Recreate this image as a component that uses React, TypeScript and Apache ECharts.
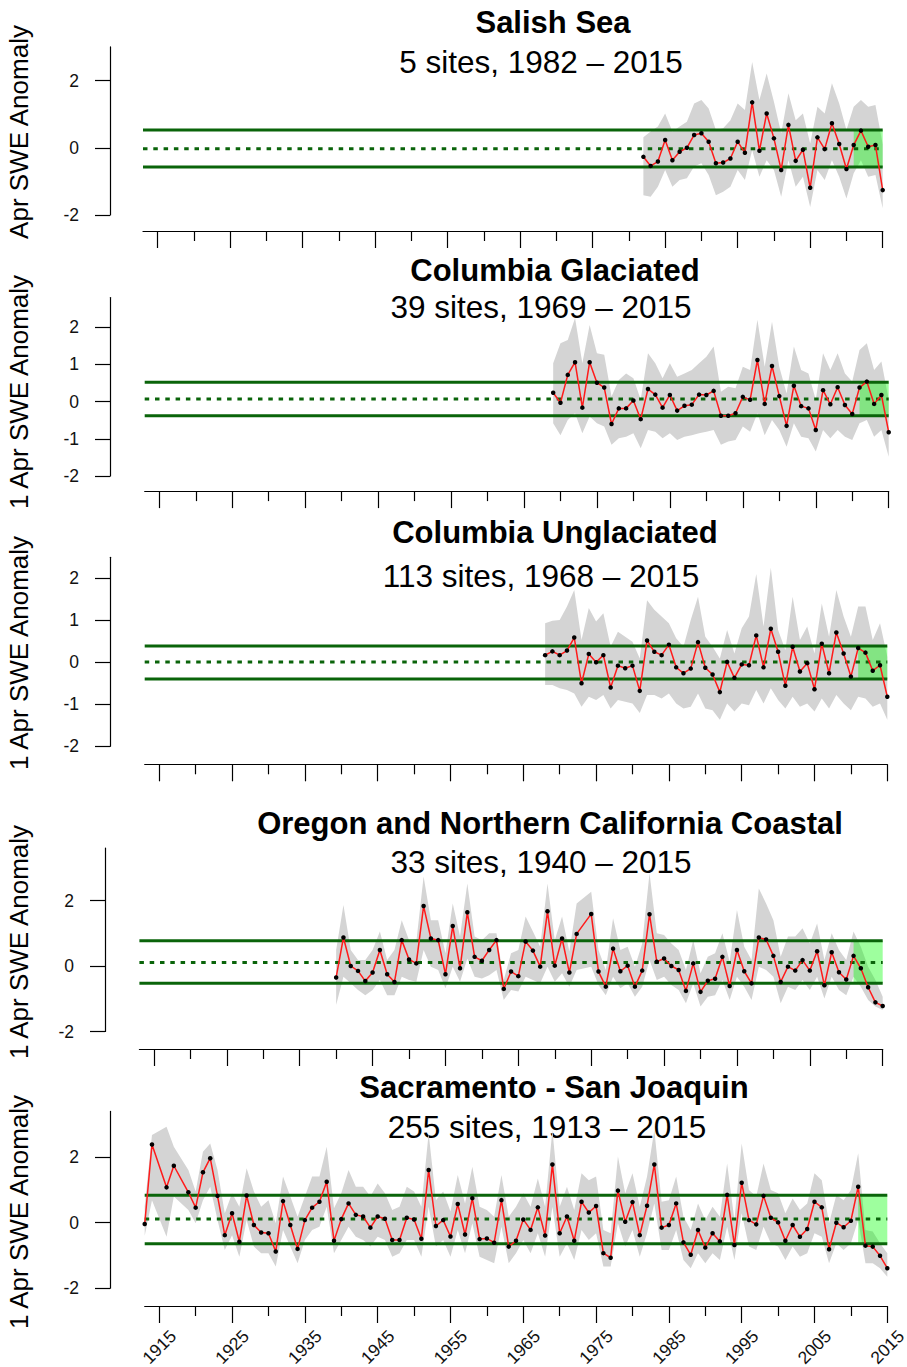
import React, { useEffect, useRef } from "react";
import * as echarts from "echarts";

const FONT = "'Liberation Sans', Arial, Helvetica, sans-serif";

function span(from: number, to: number, missing: number[] = []): number[] {
  const out: number[] = [];
  for (let y = from; y <= to; y++) if (!missing.includes(y)) out.push(y);
  return out;
}

// ---------- shared axis values ----------
const X_RANGE = [1913, 2015];
const majorYears = [1915, 1925, 1935, 1945, 1955, 1965, 1975, 1985, 1995, 2005, 2015];
const minorYears = [1920, 1930, 1940, 1950, 1960, 1970, 1980, 1990, 2000, 2010];
const recentPeriod = [2011, 2015];

// ---------- Salish Sea ----------
const salishYears = span(1982, 2015);
const salishMean = [-0.27, -0.54, -0.41, 0.23, -0.37, -0.12, 0.0, 0.38, 0.43, 0.18, -0.46, -0.44, -0.32, 0.18, -0.15, 1.35, -0.09, 1.02, 0.28, -0.66, 0.68, -0.39, -0.06, -1.19, 0.31, -0.04, 0.73, 0.11, -0.63, 0.08, 0.51, 0.03, 0.08, -1.26];
const salishHi = [0.31, 0.48, 0.63, 1.02, 0.48, 0.63, 0.77, 1.32, 1.42, 1.17, 0.53, 0.58, 0.82, 1.32, 1.12, 2.55, 1.42, 2.21, 1.37, 0.43, 1.62, 0.82, 1.02, 0.13, 1.22, 1.02, 1.92, 1.32, 0.53, 1.22, 1.42, 1.22, 1.27, 0.1];
const salishLo = [-1.41, -1.46, -1.16, -0.66, -1.16, -0.96, -0.91, -0.56, -0.46, -0.81, -1.41, -1.31, -1.16, -0.66, -0.96, -0.07, -0.86, -0.37, -0.66, -1.46, -0.37, -1.16, -0.86, -1.76, -0.66, -0.96, -0.37, -0.86, -1.51, -0.76, -0.37, -0.86, -0.81, -1.8];
const salishLines = [0.53, -0.03, -0.57];

// ---------- Columbia Glaciated ----------
const glacYears = span(1969, 2015);
const glacMean = [0.24, -0.03, 0.72, 1.06, -0.16, 1.06, 0.51, 0.38, -0.6, -0.18, -0.18, 0.03, -0.47, 0.34, 0.19, -0.16, 0.18, -0.24, -0.11, -0.08, 0.19, 0.18, 0.29, -0.38, -0.38, -0.31, 0.13, 0.05, 1.12, -0.06, 0.96, 0.15, -0.65, 0.43, -0.12, -0.18, -0.76, 0.31, -0.07, 0.39, -0.09, -0.33, 0.38, 0.54, -0.06, 0.18, -0.82];
const glacHi = [1.03, 1.57, 1.66, 2.25, 1.03, 2.06, 1.3, 1.26, 0.14, 0.58, 0.76, 0.63, 0.05, 1.3, 1.03, 0.63, 1.03, 0.67, 0.76, 0.85, 1.03, 1.21, 1.48, 0.27, 0.4, 0.36, 0.94, 0.85, 2.2, 0.94, 2.15, 0.94, 0.22, 1.48, 0.85, 0.76, 0.05, 1.3, 0.85, 1.3, 0.76, 0.54, 1.39, 1.57, 0.85, 1.08, 0.05];
const glacLo = [-0.58, -0.9, -0.49, -0.31, -0.85, -0.4, -0.58, -0.67, -1.16, -0.98, -0.94, -0.85, -1.25, -0.76, -0.81, -0.98, -0.85, -1.03, -0.94, -0.9, -0.85, -0.81, -0.76, -1.16, -1.07, -1.03, -0.67, -0.81, -0.31, -0.9, -0.49, -0.76, -1.21, -0.58, -0.94, -0.98, -1.34, -0.76, -0.98, -0.76, -0.94, -1.03, -0.58, -0.49, -0.94, -0.76, -1.48];
const glacLines = [0.52, 0.07, -0.38];

// ---------- Columbia Unglaciated ----------
const unglYears = span(1968, 2015);
const unglMean = [0.17, 0.26, 0.17, 0.28, 0.59, -0.5, 0.2, 0.0, 0.17, -0.6, -0.08, -0.14, -0.08, -0.68, 0.52, 0.25, 0.17, 0.42, -0.12, -0.26, -0.15, 0.48, -0.13, -0.29, -0.71, 0.01, -0.37, -0.05, -0.07, 0.64, -0.12, 0.8, 0.25, -0.56, 0.37, -0.22, -0.02, -0.64, 0.44, -0.26, 0.71, 0.21, -0.34, 0.34, 0.23, -0.2, -0.07, -0.82];
const unglHi = [0.93, 0.99, 1.01, 1.33, 1.72, 0.53, 1.29, 0.97, 1.17, 0.37, 0.73, 0.61, 0.49, 0.09, 1.48, 1.25, 1.09, 0.93, 0.57, 0.37, 1.01, 1.56, 0.61, 0.37, 0.09, 0.77, 0.21, 0.81, 1.09, 2.1, 0.85, 2.25, 0.77, 0.29, 1.56, 0.53, 0.85, 0.21, 1.4, 0.61, 1.72, 1.09, 0.61, 1.33, 1.33, 0.53, 0.93, 0.13];
const unglLo = [-0.54, -0.54, -0.62, -0.66, -0.74, -1.06, -0.82, -0.9, -0.78, -1.1, -0.9, -0.94, -0.98, -1.21, -0.78, -0.78, -0.86, -0.74, -0.98, -1.1, -1.06, -0.74, -1.1, -1.14, -1.37, -0.98, -1.17, -0.98, -1.02, -0.66, -0.98, -0.62, -0.9, -1.1, -0.82, -1.06, -0.98, -1.17, -0.86, -1.1, -0.78, -0.98, -1.14, -0.82, -0.86, -1.06, -0.98, -1.37];
const unglLines = [0.39, 0.01, -0.4];

// ---------- Oregon and Northern California Coastal ----------
const orYears = span(1940, 2015, [1974]);
const orMean = [-0.35, 0.87, 0.0, -0.15, -0.46, -0.2, 0.49, -0.25, -0.49, 0.79,
  0.2, 0.08, 1.83, 0.84, 0.79, -0.25, 1.22, -0.07, 1.64, 0.28,
  0.16, 0.49, 0.79, -0.7, -0.17, -0.31, 0.75, 0.47, -0.02, 1.67,
  0.01, 0.84, -0.2, 0.98,
  1.59, -0.17, -0.63, 0.53, -0.16,
  0.01, -0.63, -0.14, 1.58, 0.13, 0.23, 0.0, -0.12, -0.76, 0.08,
  -0.79, -0.45, -0.39, 0.28, -0.61, 0.49, -0.16, -0.53, 0.87, 0.81,
  0.31, -0.49, -0.02, -0.14, 0.18, -0.14, 0.45, -0.59, 0.42, -0.19,
  -0.41, 0.31, -0.07, -0.65, -1.11, -1.22];
const orHi = [0.49, 1.86, 0.49, 0.18, 0.18, 0.49, 1.05, 0.18, 0.49, 1.4,
  0.79, 0.74, 2.73, 1.4, 1.4, 0.39, 1.91, 0.9, 2.52, 0.9,
  0.79, 1.0, 1.0, -0.43, 0.39, 0.49, 1.51, 1.05, 0.59, 2.52,
  0.79, 1.51, 0.44, 1.91,
  2.27, 0.49, -0.12, 1.46, 0.49,
  0.59, -0.02, 0.69, 2.83, 1.0, 0.95, 0.69, 0.49, -0.12, 0.79,
  -0.22, 0.28, 0.39, 1.0, 0.13, 1.71, 0.59, 0.18, 2.37, 1.91,
  1.4, 0.28, 0.9, 0.9, 1.15, 0.69, 1.3, 0.18, 1.0, 0.49,
  0.18, 1.05, 0.59, -0.02, -0.43, -0.94];
const orLo = [-1.19, -0.33, -0.53, -0.73, -0.89, -0.73, -0.43, -0.89, -0.89, -0.33,
  -0.43, -0.48, 0.49, -0.02, -0.12, -0.68, -0.02, -0.48, 0.23, -0.33,
  -0.38, -0.28, -0.12, -1.04, -0.73, -0.78, -0.33, -0.43, -0.53, -0.02,
  -0.48, -0.22, -0.63, -0.12,
  -0.02, -0.58, -0.89, -0.33, -0.68,
  -0.53, -0.94, -0.63, 0.18, -0.43, -0.33, -0.58, -0.73, -1.14, -0.53,
  -1.24, -0.94, -0.89, -0.43, -1.04, -0.33, -0.63, -1.04, -0.02, -0.12,
  -0.33, -1.14, -0.63, -0.73, -0.43, -0.73, -0.33, -0.99, -0.33, -0.73,
  -0.89, -0.33, -0.63, -1.04, -1.24, -1.34];
const orLines = [0.77, 0.11, -0.53];

// ---------- Sacramento - San Joaquin ----------
const sacYears = span(1913, 2015, [1915, 1918]);
const sacMean = [-0.04, 2.39, 1.08, 1.74, 0.93,
  0.46, 1.54, 1.97, 0.82, -0.38, 0.29, -0.58, 0.83, -0.07, -0.3,
  -0.32, -0.88, 0.66, -0.07, -0.8, 0.08, 0.46, 0.64, 1.25, -0.55,
  0.11, 0.59, 0.24, 0.19, -0.15, 0.19, 0.12, -0.53, -0.53, 0.15,
  0.1, -0.49, 1.61, -0.1, 0.08, -0.42, 0.57, -0.36, 0.75, -0.5,
  -0.48, -0.61, 0.69, -0.73, -0.55, 0.1, -0.22, 0.47, -0.39, 1.78,
  -0.32, 0.19, -0.55, 0.64, 0.31, 0.51, -0.93, -1.07, 0.98, 0.03,
  0.63, -0.38, 0.52, 1.78, -0.15, -0.07, 0.59, -0.6, -0.98, -0.22,
  -0.76, -0.32, -0.57, 0.85, -0.68, 1.22, 0.08, -0.05, 0.82, 0.15,
  0.01, -0.55, -0.07, -0.43, -0.19, 0.64, 0.47, -0.81, 0.0, -0.14,
  0.06, 1.1, -0.7, -0.73, -1.01, -1.39];
const sacHi = [0.5, 2.68, 2.93, 2.32, 1.61,
  0.95, 2.17, 2.42, 1.61, 0.29, 0.9, 0.49, 1.66, 0.95, 0.49,
  0.69, -0.02, 1.41, 0.8, 0.18, 0.8, 1.41, 1.41, 2.32, 0.44,
  0.9, 1.61, 1.1, 1.1, 0.8, 1.2, 0.9, 0.39, 0.49, 1.1,
  0.95, 0.49, 2.73, 0.69, 0.95, 0.34, 1.46, 0.59, 1.71, 0.49,
  0.39, 0.18, 1.46, 0.18, 0.49, 0.9, 0.49, 1.35, 0.49, 2.83,
  0.49, 1.1, 0.39, 1.51, 1.3, 1.41, -0.22, -0.32, 2.02, 0.9,
  1.51, 0.49, 1.41, 2.83, 0.64, 0.69, 1.41, 0.18, -0.22, 0.59,
  0.08, 0.49, 0.18, 1.81, 0.08, 2.42, 1.0, 0.8, 1.81, 1.0,
  0.9, 0.29, 0.74, 0.39, 0.59, 1.51, 1.3, -0.02, 0.85, 0.69,
  1.0, 2.12, -0.22, -0.27, -0.63, -0.93];
const sacLo = [-0.4, 0.69, -0.43, 0.8, 0.39,
  -0.02, 0.69, 1.1, 0.08, -0.83, -0.38, -1.04, 0.08, -0.73, -0.93,
  -0.93, -1.34, -0.22, -0.73, -1.24, -0.53, -0.22, -0.12, 0.49, -0.93,
  -0.53, -0.12, -0.43, -0.53, -0.73, -0.43, -0.53, -1.04, -0.93, -0.53,
  -0.53, -1.04, 0.49, -0.73, -0.53, -1.04, -0.22, -0.93, -0.02, -1.04,
  -1.14, -1.24, -0.12, -1.24, -0.93, -0.53, -0.93, -0.32, -1.04, 0.49,
  -1.04, -0.63, -1.14, -0.22, -0.53, -0.32, -1.34, -1.34, -0.02, -0.73,
  -0.22, -1.04, -0.32, 0.59, -0.83, -0.83, -0.22, -1.14, -1.39, -0.93,
  -1.24, -0.93, -1.14, -0.12, -1.14, 0.29, -0.73, -0.83, -0.12, -0.63,
  -0.73, -1.14, -0.73, -1.04, -0.93, -0.32, -0.43, -1.24, -0.63, -0.83,
  -0.63, 0.08, -1.24, -1.24, -1.39, -1.65];
const sacLines = [0.84, 0.11, -0.64];

const panels = [
  { title: "Salish Sea", subtitle: "5 sites, 1982 \u2013 2015", yName: "Apr SWE Anomaly", years: salishYears, mean: salishMean, hi: salishHi, lo: salishLo, lines: salishLines, yTicks: [-2, 0, 2], yMax: 3.0 },
  { title: "Columbia Glaciated", subtitle: "39 sites, 1969 \u2013 2015", yName: "1 Apr SWE Anomaly", years: glacYears, mean: glacMean, hi: glacHi, lo: glacLo, lines: glacLines, yTicks: [-2, -1, 0, 1, 2], yMax: 2.8 },
  { title: "Columbia Unglaciated", subtitle: "113 sites, 1968 \u2013 2015", yName: "1 Apr SWE Anomaly", years: unglYears, mean: unglMean, hi: unglHi, lo: unglLo, lines: unglLines, yTicks: [-2, -1, 0, 1, 2], yMax: 2.5 },
  { title: "Oregon and Northern California Coastal", subtitle: "33 sites, 1940 \u2013 2015", yName: "1 Apr SWE Anomaly", years: orYears, mean: orMean, hi: orHi, lo: orLo, lines: orLines, yTicks: [-2, 0, 2], yMax: 3.6 },
  { title: "Sacramento - San Joaquin", subtitle: "255 sites, 1913 \u2013 2015", yName: "1 Apr SWE Anomaly", years: sacYears, mean: sacMean, hi: sacHi, lo: sacLo, lines: sacLines, yTicks: [-2, 0, 2], yMax: 3.4 },
];

// pixel layout of each panel
const layouts = [
  { left: 143, width: 739.7, top: 46.9, height: 168.1, xOff: 16, yOff: 33, titleX: 553, titleY: 22, subX: 541, subY: 62, nameY: 132 },
  { left: 144.7, width: 744, top: 297.5, height: 178.6, xOff: 15, yOff: 34.7, titleX: 555, titleY: 270, subX: 541, subY: 307, nameY: 392 },
  { left: 144.7, width: 742.6, top: 557.3, height: 189, xOff: 18, yOff: 34.7, titleX: 555, titleY: 532, subX: 541, subY: 576, nameY: 653 },
  { left: 139.4, width: 743.3, top: 848.1, height: 183.4, xOff: 17.5, yOff: 34.4, titleX: 550, titleY: 823, subX: 541, subY: 862, nameY: 942 },
  { left: 144.7, width: 742.6, top: 1111.4, height: 176.8, xOff: 17.8, yOff: 34.7, titleX: 554, titleY: 1087, subX: 547, subY: 1127, nameY: 1212 },
];

const AXIS_COLOR = "#000";
const GREEN = "#0a640a";

function buildOption() {
  const grid: any[] = [];
  const xAxis: any[] = [];
  const yAxis: any[] = [];
  const series: any[] = [];
  const graphic: any[] = [];

  panels.forEach((p, k) => {
    const L = layouts[k];
    grid.push({ left: L.left, top: L.top, width: L.width, height: L.height, containLabel: false, outerBoundsMode: "none" });
    xAxis.push({
      type: "value", gridIndex: k, min: X_RANGE[0], max: X_RANGE[1], position: "bottom", offset: L.xOff,
      axisLine: { show: true, onZero: false, lineStyle: { color: AXIS_COLOR, width: 1.2 } },
      axisTick: { show: true, customValues: majorYears, length: 17, lineStyle: { color: AXIS_COLOR, width: 1.2 } },
      axisLabel: { show: k === panels.length - 1, customValues: majorYears, rotate: 45, align: "center", verticalAlign: "middle", margin: 41, fontSize: 17.5, color: "#111", fontFamily: FONT, formatter: (v: number) => String(v) },
      splitLine: { show: false },
    });
    xAxis.push({
      type: "value", gridIndex: k, min: X_RANGE[0], max: X_RANGE[1], position: "bottom", offset: L.xOff,
      axisLine: { show: false, onZero: false },
      axisTick: { show: true, customValues: minorYears, length: 10, lineStyle: { color: AXIS_COLOR, width: 1.2 } },
      axisLabel: { show: false },
      splitLine: { show: false },
    });
    yAxis.push({
      type: "value", gridIndex: k, min: -2, max: p.yMax, position: "left", offset: L.yOff,
      axisLine: { show: true, onZero: false, lineStyle: { color: AXIS_COLOR, width: 1.2 } },
      axisTick: { show: true, customValues: p.yTicks, length: 15, lineStyle: { color: AXIS_COLOR, width: 1.2 } },
      axisLabel: { show: true, customValues: p.yTicks, margin: 31, fontSize: 17.5, color: "#111", fontFamily: FONT, formatter: (v: number) => String(v) },
      splitLine: { show: false },
    });

    const xi = 2 * k;
    // gray envelope
    series.push({
      type: "custom", xAxisIndex: xi, yAxisIndex: k, z: 1, silent: true,
      data: [[p.years[0], p.mean[0]]],
      renderItem: (_params: any, api: any) => {
        const pts: number[][] = [];
        p.years.forEach((y, i) => pts.push(api.coord([y, p.hi[i]])));
        for (let i = p.years.length - 1; i >= 0; i--) pts.push(api.coord([p.years[i], p.lo[i]]));
        return { type: "polygon", shape: { points: pts }, style: { fill: "#d4d4d4", stroke: "none" } };
      },
    });
    // recent-period green box
    series.push({
      type: "custom", xAxisIndex: xi, yAxisIndex: k, z: 2, silent: true,
      data: [[recentPeriod[0], p.lines[0]]],
      renderItem: (_params: any, api: any) => {
        const a = api.coord([recentPeriod[0], p.lines[0]]);
        const b = api.coord([recentPeriod[1], p.lines[2]]);
        return { type: "rect", shape: { x: a[0], y: a[1], width: b[0] - a[0], height: b[1] - a[1] }, style: { fill: "rgba(0,255,0,0.38)" } };
      },
    });
    // green reference lines
    p.lines.forEach((v, j) => {
      series.push({
        type: "line", xAxisIndex: xi, yAxisIndex: k, z: 3, silent: true, symbol: "none", clip: false,
        data: [[X_RANGE[0], v], [X_RANGE[1], v]],
        lineStyle: j === 1 ? { color: GREEN, width: 3, type: [4.5, 5.8], cap: "butt" } : { color: GREEN, width: 3 },
      });
    });
    // mean anomaly
    series.push({
      type: "line", xAxisIndex: xi, yAxisIndex: k, z: 5, silent: true, clip: false,
      data: p.years.map((y, i) => [y, p.mean[i]]),
      symbol: "circle", symbolSize: 4.5, showSymbol: true,
      itemStyle: { color: "#000" },
      lineStyle: { color: "#ff1a1a", width: 1.5 },
    });

    graphic.push({ type: "text", x: L.titleX, y: L.titleY, silent: true, style: { text: p.title, fontSize: 31, fontWeight: "bold", fontFamily: FONT, fill: "#000", textAlign: "center", textVerticalAlign: "middle" } });
    graphic.push({ type: "text", x: L.subX, y: L.subY, silent: true, style: { text: p.subtitle, fontSize: 31.5, fontFamily: FONT, fill: "#000", textAlign: "center", textVerticalAlign: "middle" } });
    graphic.push({ type: "text", x: 19, y: L.nameY, rotation: Math.PI / 2, silent: true, style: { text: p.yName, fontSize: 26, fontFamily: FONT, fill: "#000", textAlign: "center", textVerticalAlign: "middle" } });
  });

  return { animation: false, backgroundColor: "#fff", grid, xAxis, yAxis, series, graphic };
}

export default function App() {
  const ref = useRef<HTMLDivElement>(null);
  useEffect(() => {
    if (!ref.current) return;
    const chart = echarts.init(ref.current, null, { renderer: "svg" });
    chart.setOption(buildOption() as any);
    return () => chart.dispose();
  }, []);
  return <div ref={ref} style={{ position: "absolute", left: 0, top: 0, width: 907, height: 1367 }} />;
}
